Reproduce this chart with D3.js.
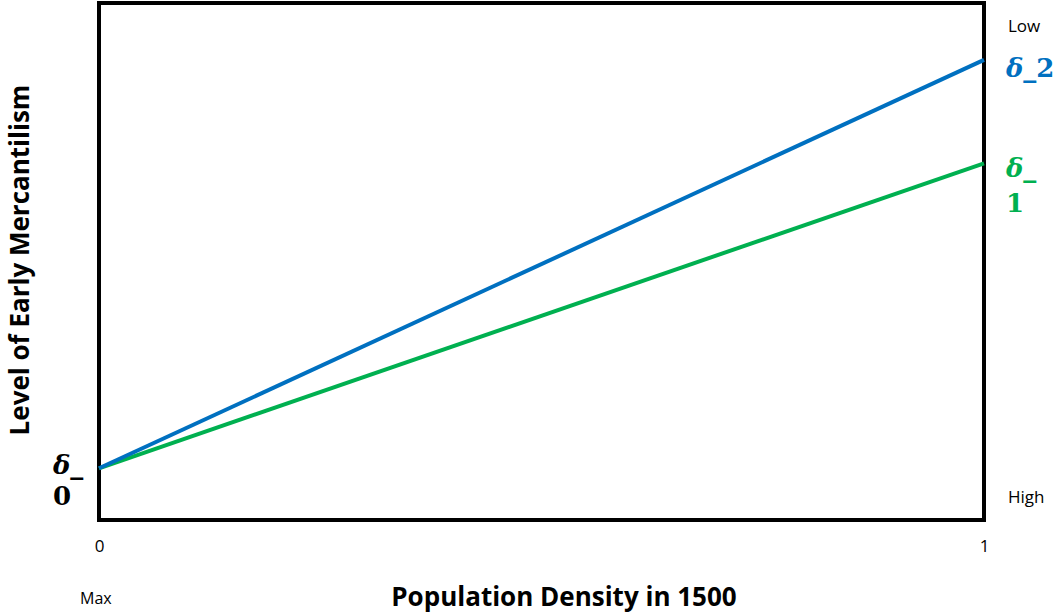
<!DOCTYPE html>
<html>
<head>
<meta charset="utf-8">
<script src="https://cdn.jsdelivr.net/npm/d3@7"></script>
<style>
  body { margin: 0; background: #fff; }
  text { font-family: "Open Sans", sans-serif; }
  .axis .domain, .axis line { display: none; }
</style>
</head>
<body>
<div id="chart"></div>
<script>
var w = 1056, h = 614;

// data
var xTicks = [0, 1];
var seriesNames = ["δ_1", "δ_2"];
var seriesColors = ["#00B050", "#0070C0"];
var delta1 = [[0, 0.10], [1, 0.69]];
var delta2 = [[0, 0.10], [1, 0.89]];
var startLabel = "δ_0";

var m = { left: 99, right: 984, top: 3, bottom: 520 };

var svg = d3.select("#chart").append("svg")
  .attr("width", w)
  .attr("height", h);

var xScale = d3.scaleLinear().domain([0, 1]).range([m.left, m.right]);
var yScale = d3.scaleLinear().domain([0, 1]).range([m.bottom, m.top]);

var line = d3.line()
  .x(function(d) { return xScale(d[0]); })
  .y(function(d) { return yScale(d[1]); });

// frame
svg.append("rect")
  .attr("x", m.left)
  .attr("y", m.top)
  .attr("width", m.right - m.left)
  .attr("height", m.bottom - m.top)
  .attr("fill", "none")
  .attr("stroke", "#000")
  .attr("stroke-width", 4);

// lines
[delta1, delta2].forEach(function(s, i) {
  svg.append("path")
    .datum(s)
    .attr("d", line)
    .attr("fill", "none")
    .attr("stroke", seriesColors[i])
    .attr("stroke-width", 4);
});

// x axis tick labels
var xAxis = d3.axisBottom(xScale)
  .tickValues(xTicks)
  .tickSize(0)
  .tickPadding(0)
  .tickFormat(d3.format("d"));

svg.append("g")
  .attr("class", "axis")
  .attr("transform", "translate(0," + (m.bottom + 20) + ")")
  .call(xAxis)
  .selectAll("text")
  .style("font-size", "17px")
  .style("font-family", "'Open Sans', sans-serif")
  .attr("fill", "#000");

// side labels
svg.append("text").attr("x", 1008).attr("y", 32).style("font-size", "17px").text("Low");
svg.append("text").attr("x", 1008).attr("y", 503).style("font-size", "17px").text("High");
svg.append("text").attr("x", 80).attr("y", 604).style("font-size", "16px").text("Max");

// series end labels
function mathLabel(x, y, parts, color) {
  var t = svg.append("text")
    .attr("x", x).attr("y", y)
    .attr("fill", color)
    .style("font-family", "'DejaVu Serif', serif")
    .style("font-weight", "bold")
    .style("font-size", "26px");
  parts.forEach(function(p, i) {
    t.append("tspan")
      .style("font-style", i === 0 ? "italic" : "normal")
      .text(p);
  });
}
var l2 = seriesNames[1].split("_");
mathLabel(1006, 77, [l2[0], "_" + l2[1]], seriesColors[1]);
var l1 = seriesNames[0].split("_");
mathLabel(1006, 177, [l1[0], "_"], seriesColors[0]);
mathLabel(1006, 212, ["", l1[1]], seriesColors[0]);
var l0 = startLabel.split("_");
mathLabel(53, 474, [l0[0], "_"], "#000");
mathLabel(53, 505, ["", l0[1]], "#000");

// axis titles
svg.append("text")
  .attr("x", 564)
  .attr("y", 606)
  .attr("text-anchor", "middle")
  .style("font-size", "26px")
  .style("font-weight", "bold")
  .text("Population Density in 1500");

svg.append("text")
  .attr("transform", "translate(29,260) rotate(-90)")
  .attr("text-anchor", "middle")
  .style("font-size", "26px")
  .style("font-weight", "bold")
  .text("Level of Early Mercantilism");
</script>
</body>
</html>
